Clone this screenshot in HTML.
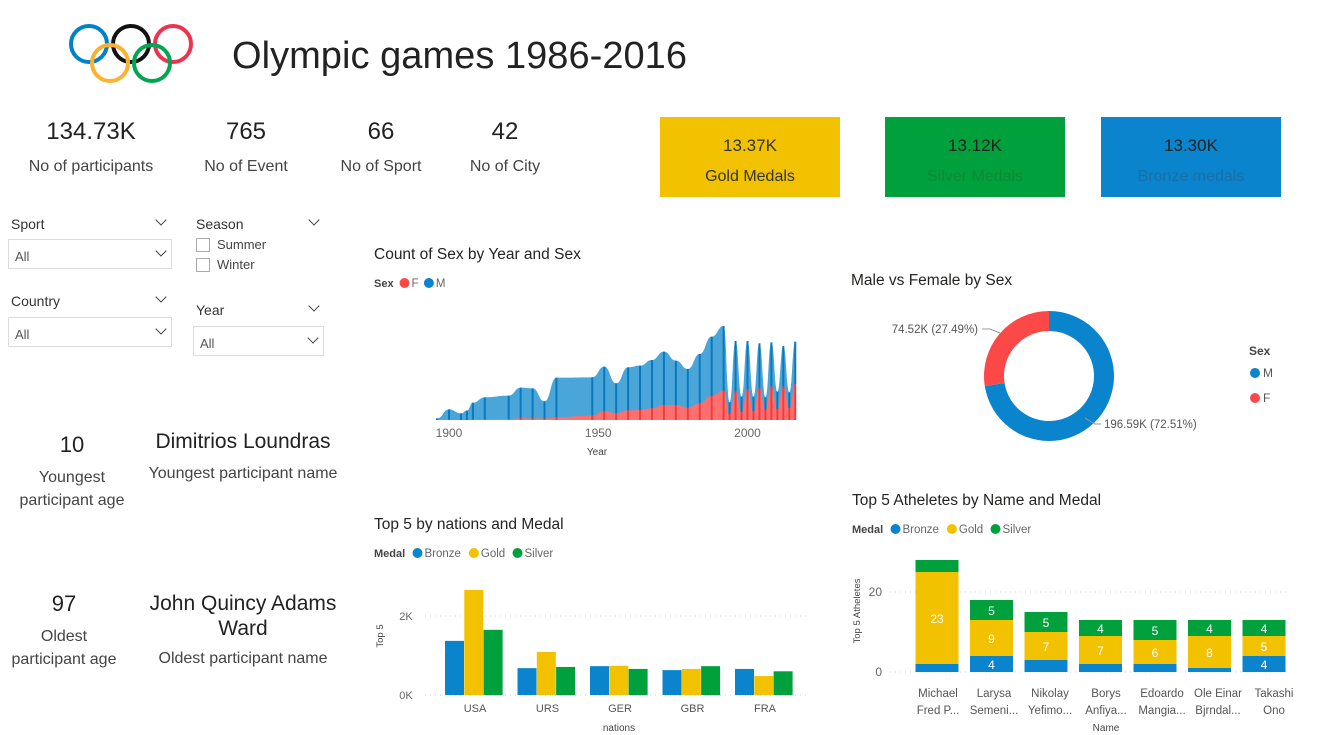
<!DOCTYPE html>
<html><head><meta charset="utf-8"><style>
body{margin:0;width:1321px;height:735px;background:#fff;font-family:"Liberation Sans",sans-serif;overflow:hidden;position:relative}
.a{position:absolute;white-space:nowrap}
.c{text-align:center}
.box{position:absolute;border:1px solid #ddd;background:#fff;font-size:13px;color:#555}
.box span{position:absolute;left:6px;top:9px}
.chev{position:absolute;right:6px;top:7px;width:7px;height:7px;border-right:1.5px solid #444;border-bottom:1.5px solid #444;transform:rotate(45deg)}
.lab{font-size:14px;color:#333}
.chk{position:absolute;width:12px;height:12px;border:1px solid #aaa}
svg text{font-family:"Liberation Sans",sans-serif}
</style></head><body>
<svg class="a" style="left:0;top:0" width="230" height="100">
<g fill="none" stroke-width="4">
<circle cx="89" cy="44" r="18" stroke="#0081c8"/>
<circle cx="131" cy="44" r="18" stroke="#111"/>
<circle cx="173" cy="44" r="18" stroke="#ee334e"/>
<circle cx="110" cy="63" r="18" stroke="#fcb131"/>
<circle cx="152" cy="63" r="18" stroke="#00a651"/>
</g></svg>
<svg class="a" style="left:0;top:0" width="720" height="100"><text x="232" y="68" font-size="38" fill="#222" textLength="455">Olympic games 1986-2016</text></svg>

<div class="a c" style="left:11px;top:118px;width:160px;font-size:24px;color:#222">134.73K</div>
<div class="a c" style="left:11px;top:158px;width:160px;font-size:16px;color:#444">No of participants</div>
<div class="a c" style="left:186px;top:118px;width:120px;font-size:24px;color:#222">765</div>
<div class="a c" style="left:186px;top:158px;width:120px;font-size:16px;color:#444">No of Event</div>
<div class="a c" style="left:321px;top:118px;width:120px;font-size:24px;color:#222">66</div>
<div class="a c" style="left:321px;top:158px;width:120px;font-size:16px;color:#444">No of Sport</div>
<div class="a c" style="left:445px;top:118px;width:120px;font-size:24px;color:#222">42</div>
<div class="a c" style="left:445px;top:158px;width:120px;font-size:16px;color:#444">No of City</div>

<div class="a c" style="left:660px;top:117px;width:180px;height:80px;background:#f2c200;color:#333"><div style="margin-top:19px;font-size:17px">13.37K</div><div style="margin-top:12px;font-size:16px">Gold Medals</div></div>
<div class="a c" style="left:885px;top:117px;width:180px;height:80px;background:#00a03c;color:#222"><div style="margin-top:19px;font-size:17px">13.12K</div><div style="margin-top:12px;font-size:16px;color:#0d8a36">Silver Medals</div></div>
<div class="a c" style="left:1101px;top:117px;width:180px;height:80px;background:#0a84cc;color:#222"><div style="margin-top:19px;font-size:17px">13.30K</div><div style="margin-top:12px;font-size:16px;color:#1c6fa6">Bronze medals</div></div>

<div class="a lab" style="left:11px;top:216px">Sport</div>
<div class="chev" style="left:157px;top:216px;right:auto"></div>
<div class="box" style="left:8px;top:239px;width:162px;height:28px"><span>All</span><div class="chev"></div></div>
<div class="a lab" style="left:11px;top:293px">Country</div>
<div class="chev" style="left:157px;top:293px;right:auto"></div>
<div class="box" style="left:8px;top:317px;width:162px;height:28px"><span>All</span><div class="chev"></div></div>
<div class="a lab" style="left:196px;top:216px">Season</div>
<div class="chev" style="left:310px;top:216px;right:auto"></div>
<div class="chk" style="left:196px;top:238px"></div>
<div class="a" style="left:217px;top:237px;font-size:13px;color:#444">Summer</div>
<div class="chk" style="left:196px;top:258px"></div>
<div class="a" style="left:217px;top:257px;font-size:13px;color:#444">Winter</div>
<div class="a lab" style="left:196px;top:302px">Year</div>
<div class="chev" style="left:310px;top:302px;right:auto"></div>
<div class="box" style="left:193px;top:326px;width:129px;height:28px"><span>All</span><div class="chev"></div></div>

<div class="a c" style="left:12px;top:432px;width:120px;font-size:22px;color:#222">10</div>
<div class="a c" style="left:2px;top:466px;width:140px;font-size:16px;color:#444;white-space:normal;line-height:23px">Youngest participant age</div>
<div class="a c" style="left:133px;top:430px;width:220px;font-size:21px;color:#222">Dimitrios Loundras</div>
<div class="a c" style="left:133px;top:465px;width:220px;font-size:16px;color:#444">Youngest participant name</div>
<div class="a c" style="left:4px;top:591px;width:120px;font-size:22px;color:#222">97</div>
<div class="a c" style="left:4px;top:625px;width:120px;font-size:16px;color:#444;white-space:normal;line-height:23px">Oldest participant age</div>
<div class="a c" style="left:133px;top:591px;width:220px;font-size:21px;color:#222;white-space:normal;line-height:25px">John Quincy Adams Ward</div>
<div class="a c" style="left:133px;top:650px;width:220px;font-size:16px;color:#444">Oldest participant name</div>

<svg id="s" class="a" style="left:0;top:0" width="1321" height="735"></svg>
<script>
const years=[1896,1900,1904,1906,1908,1912,1920,1924,1928,1932,1936,1948,1952,1956,1960,1964,1968,1972,1976,1980,1984,1988,1992,1994,1996,1998,2000,2002,2004,2006,2008,2010,2012,2014,2016];
const totalCounts=[230,1470,920,1290,2390,3130,3360,4460,4370,2580,5840,5890,7360,5060,7270,7500,8280,9430,8190,7040,9110,11500,12970,2440,10900,3220,10900,3220,10580,3130,10720,3910,10210,3820,10810];
const femaleCounts=[0,30,10,10,60,100,130,250,230,200,370,600,1240,920,1330,1380,1610,2070,2070,1700,2300,3310,4050,830,3910,1060,4230,1150,4370,1380,4600,1470,4600,1610,4920];
const nations=["USA","URS","GER","GBR","FRA"];
const natBronze=[1.37,0.68,0.73,0.63,0.66];
const natGold=[2.66,1.09,0.74,0.66,0.48];
const natSilver=[1.65,0.71,0.66,0.73,0.60];
const athletes=[["Michael","Fred P..."],["Larysa","Semeni..."],["Nikolay","Yefimo..."],["Borys","Anfiya..."],["Edoardo","Mangia..."],["Ole Einar","Bjrndal..."],["Takashi","Ono"]];
const athBronze=[2,4,3,2,2,1,4];
const athGold=[23,9,7,7,6,8,5];
const athSilver=[3,5,5,4,5,4,4];
const sexLabels=["M","F"];
const sexValues=[196.59,74.52];

const S=document.getElementById('s');const NS="http://www.w3.org/2000/svg";
function el(t,a,p){const e=document.createElementNS(NS,t);for(const k in a)e.setAttribute(k,a[k]);(p||S).appendChild(e);return e;}
function tx(x,y,s,o){const e=el('text',Object.assign({x:x,y:y,'font-size':12,fill:'#555'},o||{}));e.textContent=s;return e;}
const BLUE='#0a84cc',GOLD='#f2c200',GREEN='#00a03c',RED='#fd4848';
function legend(x,y,title,items){tx(x,y,title,{'font-weight':'bold','font-size':11,fill:'#444'});let cx=x+title.length*6.5+6;items.forEach(it=>{el('circle',{cx:cx+5,cy:y-4,r:5,fill:it[1]});tx(cx+12,y,it[0],{'font-size':11.5,fill:'#666'});cx+=12+it[0].length*6.4+6;});}

// ---- Area chart
tx(374,259,"Count of Sex by Year and Sex",{'font-size':15.5,fill:'#252423'});
legend(374,287,"Sex",[["F",RED],["M",BLUE]]);
const ax=y=>449+(y-1900)*2.985, ay=v=>420-v/138;
function smooth(vals){const p=years.map((y,i)=>[ax(y),ay(vals[i])]);let d='M'+p[0][0]+','+p[0][1];for(let i=0;i<p.length-1;i++){const mx=(p[i][0]+p[i+1][0])/2;d+=` C${mx},${p[i][1]} ${mx},${p[i+1][1]} ${p[i+1][0]},${p[i+1][1]}`;}return d;}
const ag=el('g',{});
const x0=ax(years[0]),x1=ax(years[years.length-1]);
const mArea=el('path',{d:smooth(totalCounts)+` L${x1},420 L${x0},420 Z`,fill:'#4aa6d8'},ag);
const fArea=el('path',{d:smooth(femaleCounts)+` L${x1},420 L${x0},420 Z`,fill:'#fe7070'},ag);
years.forEach((y,i)=>{const x=ax(y);
 const l=el('line',{x1:x,x2:x,y1:ay(totalCounts[i]),y2:ay(femaleCounts[i]),stroke:'#0a78bf','stroke-width':2},ag);
 const f=el('line',{x1:x,x2:x,y1:ay(femaleCounts[i]),y2:420,stroke:'#f43b3b','stroke-width':2},ag);});
[1900,1950,2000].forEach(y=>tx(ax(y),437,y,{'text-anchor':'middle','font-size':12,fill:'#666'}));
tx(597,455,"Year",{'text-anchor':'middle','font-size':10,fill:'#444'});

// ---- Nations chart
tx(374,529,"Top 5 by nations and Medal",{'font-size':15.5,fill:'#252423'});
legend(374,557,"Medal",[["Bronze",BLUE],["Gold",GOLD],["Silver",GREEN]]);
const ny=v=>695-v*39.5;
[0,2].forEach(v=>{el('line',{x1:425,x2:810,y1:ny(v),y2:ny(v),stroke:'#ccc','stroke-dasharray':'1,4'});tx(406,ny(v)+4,v+"K",{'text-anchor':'middle','font-size':11,fill:'#666'});});
tx(0,0,"Top 5",{transform:'translate(383,636) rotate(-90)','text-anchor':'middle','font-size':9.5,fill:'#444'});
nations.forEach((n,i)=>{const cx=474+i*72.5;[[natBronze,BLUE,'bronze'],[natGold,GOLD,'gold'],[natSilver,GREEN,'silver']].forEach((s,j)=>{const r=el('rect',{x:cx-29+j*19.3,y:ny(s[0][i]),width:19,height:695-ny(s[0][i]),fill:s[1]});});
tx(cx+1,712,n,{'text-anchor':'middle','font-size':11,fill:'#555'});});
tx(619,731,"nations",{'text-anchor':'middle','font-size':10,fill:'#444'});

// ---- Donut
tx(851,285,"Male vs Female by Sex",{'font-size':15.5,fill:'#252423'});
const cxd=1049,cyd=376,R=65,r=45;const tot=sexValues[0]+sexValues[1];
let a0=0;[[BLUE],[RED]].forEach((c,i)=>{const a1=a0+sexValues[i]/tot*2*Math.PI;const p=(a,rr)=>[cxd+rr*Math.sin(a),cyd-rr*Math.cos(a)];const lg=(a1-a0)>Math.PI?1:0;const A=p(a0,R),B=p(a1,R),C=p(a1,r),D=p(a0,r);
const s=el('path',{d:`M${A} A${R},${R} 0 ${lg} 1 ${B} L${C} A${r},${r} 0 ${lg} 0 ${D} Z`,fill:c[0]});a0=a1;});
el('polyline',{points:'982,329 990,329 1000,333',fill:'none',stroke:'#999'});
tx(978,333,"74.52K (27.49%)",{'text-anchor':'end','font-size':11.5,fill:'#555'});
el('polyline',{points:'1085,418 1095,424 1101,424',fill:'none',stroke:'#999'});
tx(1104,428,"196.59K (72.51%)",{'font-size':11.5,fill:'#555'});
tx(1249,355,"Sex",{'font-weight':'bold','font-size':12,fill:'#444'});
el('circle',{cx:1255,cy:373,r:5,fill:BLUE});tx(1263,377,"M",{'font-size':12,fill:'#555'});
el('circle',{cx:1255,cy:398,r:5,fill:RED});tx(1263,402,"F",{'font-size':12,fill:'#555'});

// ---- Athletes chart
tx(852,505,"Top 5 Atheletes by Name and Medal",{'font-size':15.5,fill:'#252423'});
legend(852,533,"Medal",[["Bronze",BLUE],["Gold",GOLD],["Silver",GREEN]]);
const hy=v=>672-v*4;
[0,20].forEach(v=>{el('line',{x1:890,x2:1290,y1:hy(v),y2:hy(v),stroke:'#ccc','stroke-dasharray':'1,4'});tx(882,hy(v)+4,v,{'text-anchor':'end','font-size':12,fill:'#666'});});
tx(0,0,"Top 5 Atheletes",{transform:'translate(860,611) rotate(-90)','text-anchor':'middle','font-size':9.5,fill:'#444'});
athletes.forEach((n,i)=>{const cx=937+i*54.5;const lx=938+i*56;let base=0;[[athBronze,BLUE,'bronze'],[athGold,GOLD,'gold'],[athSilver,GREEN,'silver']].forEach(s=>{const v=s[0][i];const rc=el('rect',{x:cx-21.5,y:hy(base+v),width:43,height:v*4,fill:s[1]});
if(v>=4)tx(cx,hy(base+v/2)+5,v,{'text-anchor':'middle','font-size':12,fill:'#fff'});base+=v;});
tx(lx,697,n[0],{'text-anchor':'middle','font-size':11.5,fill:'#555'});tx(lx,714,n[1],{'text-anchor':'middle','font-size':11.5,fill:'#555'});});
tx(1106,731,"Name",{'text-anchor':'middle','font-size':10,fill:'#444'});
</script>
</body></html>
